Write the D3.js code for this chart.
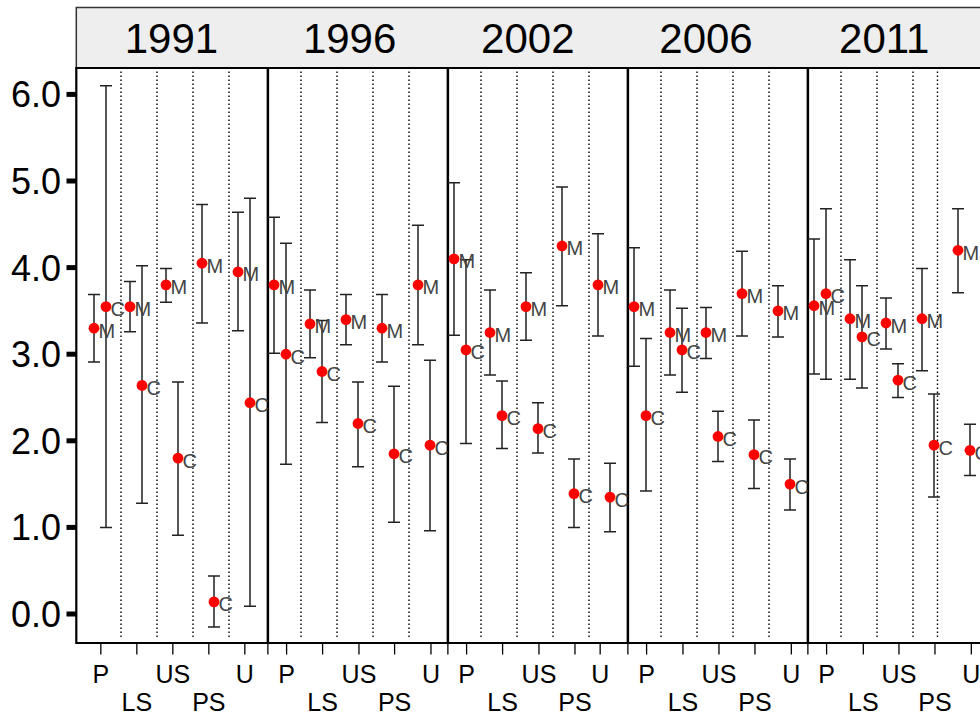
<!DOCTYPE html>
<html>
<head>
<meta charset="utf-8">
<script src="https://cdn.jsdelivr.net/npm/d3@7"></script>
<style>
  body { margin: 0; background: #fff; }
  svg { display: block; font-family: "Liberation Sans", Arial, sans-serif; }
</style>
</head>
<body>
<div id="chart"></div>
<script>
// DATA
var years = ["1991", "1996", "2002", "2006", "2011"];
var categories = ["P", "LS", "US", "PS", "U"];

// M series: mean, lower, upper (one row per year, categories in order)
var mMean = [[3.30, 3.55, 3.80, 4.05, 3.95], [3.80, 3.35, 3.40, 3.30, 3.80], [4.10, 3.25, 3.55, 4.25, 3.80], [3.55, 3.25, 3.25, 3.70, 3.50], [3.56, 3.41, 3.36, 3.41, 4.20]];
var mLow  = [[2.91, 3.26, 3.60, 3.36, 3.27], [3.01, 2.96, 3.11, 2.91, 3.11], [3.22, 2.76, 3.16, 3.56, 3.21], [2.86, 2.76, 2.95, 3.21, 3.20], [2.77, 2.71, 3.06, 2.81, 3.71]];
var mHigh = [[3.69, 3.84, 3.99, 4.73, 4.64], [4.58, 3.74, 3.69, 3.69, 4.49], [4.98, 3.74, 3.94, 4.93, 4.39], [4.23, 3.74, 3.54, 4.19, 3.79], [4.33, 4.09, 3.65, 3.99, 4.68]];

// C series
var cMean = [[3.55, 2.64, 1.80, 0.14, 2.44], [3.00, 2.80, 2.20, 1.85, 1.95], [3.05, 2.29, 2.14, 1.39, 1.35], [2.29, 3.05, 2.05, 1.84, 1.50], [3.70, 3.20, 2.70, 1.95, 1.89]];
var cLow  = [[1.00, 1.28, 0.91, -0.15, 0.09], [1.73, 2.21, 1.70, 1.06, 0.96], [1.97, 1.91, 1.86, 1.00, 0.95], [1.42, 2.56, 1.76, 1.45, 1.20], [2.71, 2.61, 2.50, 1.35, 1.60]];
var cHigh = [[6.10, 4.02, 2.68, 0.44, 4.80], [4.28, 3.39, 2.68, 2.63, 2.93], [4.09, 2.69, 2.44, 1.79, 1.74], [3.18, 3.53, 2.34, 2.24, 1.79], [4.68, 3.79, 2.89, 2.54, 2.19]];

// x axis ticks (in group units) and their labels, "" = unlabeled tick at panel edge
var tickPos = [0.19, 1.19, 2.19, 3.19, 4.19, 4.83,
               5.35, 6.35, 7.36, 8.35, 9.36, 9.83,
               10.35, 11.35, 12.36, 13.36, 14.06, 14.83,
               15.35, 16.36, 17.36, 18.36, 19.37, 19.83,
               20.35, 21.37, 22.36, 23.36, 24.37];
var tickLab = ["P", "LS", "US", "PS", "U", "",
               "P", "LS", "US", "PS", "U", "",
               "P", "LS", "US", "PS", "U", "",
               "P", "LS", "US", "PS", "U", "",
               "P", "LS", "US", "PS", "U"];
var dottedPos = [0.75, 1.75, 2.75, 3.75, 5.75, 6.75, 7.75, 8.75, 10.75, 11.75, 12.75, 13.75,
                 15.75, 16.75, 17.75, 18.75, 20.75, 21.75, 22.75, 23.43];
var borderPos = [4.83, 9.83, 14.83, 19.83];
var yTicks = [0, 1, 2, 3, 4, 5, 6];

// LAYOUT
var width = 980, height = 715;
var plotLeft = 76.3, plotTop = 68, plotBottom = 643, plotRight = 990;

var svg = d3.select("#chart").append("svg")
  .attr("width", width)
  .attr("height", height);

var x = d3.scaleLinear().domain([0, 1]).range([94, 130]);
var y = d3.scaleLinear().domain([0, 6]).range([614, 94.4]);
var stripX = d3.scaleLinear().domain([0, 4]).range([171.4, 884.2]);

// flatten into points
var points = [];
years.forEach(function (yr, i) {
  categories.forEach(function (cat, j) {
    var g = i * 5 + j;
    points.push({ u: g, mean: mMean[i][j], lo: mLow[i][j], hi: mHigh[i][j], lab: "M" });
    points.push({ u: g + 1 / 3, mean: cMean[i][j], lo: cLow[i][j], hi: cHigh[i][j], lab: "C" });
  });
});

// STRIP
svg.append("rect")
  .attr("x", plotLeft).attr("y", 7.5)
  .attr("width", plotRight - plotLeft).attr("height", plotTop - 7.5)
  .attr("fill", "#eeeeee")
  .attr("stroke", "#333").attr("stroke-width", 1.5);

svg.selectAll(".strip-label")
  .data(years)
  .enter().append("text")
  .attr("class", "strip-label")
  .attr("x", function (d, i) { return stripX(i); })
  .attr("y", 53)
  .attr("text-anchor", "middle")
  .attr("font-size", 42)
  .attr("fill", "#000")
  .text(function (d) { return d; });

// dotted separators
svg.selectAll(".dotted")
  .data(dottedPos)
  .enter().append("line")
  .attr("class", "dotted")
  .attr("x1", function (d) { return x(d); })
  .attr("x2", function (d) { return x(d); })
  .attr("y1", 71.5).attr("y2", 638)
  .attr("stroke", "#000")
  .attr("stroke-width", 1.4)
  .attr("stroke-dasharray", "1.5,2.5");

// year borders
svg.selectAll(".border")
  .data(borderPos)
  .enter().append("line")
  .attr("class", "border")
  .attr("x1", function (d) { return x(d); })
  .attr("x2", function (d) { return x(d); })
  .attr("y1", plotTop).attr("y2", plotBottom)
  .attr("stroke", "#000")
  .attr("stroke-width", 2.5);

// ERROR BARS
var bars = svg.append("g").attr("stroke", "#222").attr("stroke-width", 1.5).attr("fill", "none");
bars.selectAll(".bar")
  .data(points)
  .enter().append("path")
  .attr("d", function (d) {
    var cx = x(d.u), y0 = y(d.lo), y1 = y(d.hi);
    return "M" + (cx - 6) + "," + y1 + "H" + (cx + 6) +
           "M" + cx + "," + y1 + "V" + y0 +
           "M" + (cx - 6) + "," + y0 + "H" + (cx + 6);
  });

// POINTS
svg.selectAll(".pt")
  .data(points)
  .enter().append("circle")
  .attr("class", "pt")
  .attr("cx", function (d) { return x(d.u); })
  .attr("cy", function (d) { return y(d.mean); })
  .attr("r", 5.4)
  .attr("fill", "#ff0000");

svg.selectAll(".pt-label")
  .data(points)
  .enter().append("text")
  .attr("class", "pt-label")
  .attr("x", function (d) { return x(d.u) + 4.5; })
  .attr("y", function (d) { return y(d.mean) + 9.5; })
  .attr("font-size", 20)
  .attr("fill", "#444")
  .text(function (d) { return d.lab; });

// FRAME
svg.append("path")
  .attr("d", "M" + plotRight + "," + plotTop + "H" + plotLeft + "V" + plotBottom + "H" + plotRight)
  .attr("fill", "none")
  .attr("stroke", "#000")
  .attr("stroke-width", 2.2);

// Y AXIS
var yAxis = svg.append("g");
yAxis.selectAll("line")
  .data(yTicks)
  .enter().append("line")
  .attr("x1", 66.5).attr("x2", plotLeft)
  .attr("y1", function (d) { return y(d); })
  .attr("y2", function (d) { return y(d); })
  .attr("stroke", "#000")
  .attr("stroke-width", 5);
yAxis.selectAll("text")
  .data(yTicks)
  .enter().append("text")
  .attr("x", 61)
  .attr("y", function (d) { return y(d) + 13; })
  .attr("text-anchor", "end")
  .attr("font-size", 36)
  .attr("fill", "#000")
  .text(function (d) { return d3.format(".1f")(d); });

// X AXIS
var xAxis = svg.append("g");
xAxis.selectAll("line")
  .data(tickPos)
  .enter().append("line")
  .attr("x1", function (d) { return x(d); })
  .attr("x2", function (d) { return x(d); })
  .attr("y1", plotBottom).attr("y2", 654.5)
  .attr("stroke", "#000")
  .attr("stroke-width", 1.3);
xAxis.selectAll("text")
  .data(tickPos)
  .enter().append("text")
  .attr("x", function (d) { return x(d); })
  .attr("y", function (d, i) {
    var lab = tickLab[i];
    return (lab === "LS" || lab === "PS") ? 711 : 683;
  })
  .attr("text-anchor", "middle")
  .attr("font-size", 25)
  .attr("fill", "#000")
  .text(function (d, i) { return tickLab[i]; });
</script>
</body>
</html>
